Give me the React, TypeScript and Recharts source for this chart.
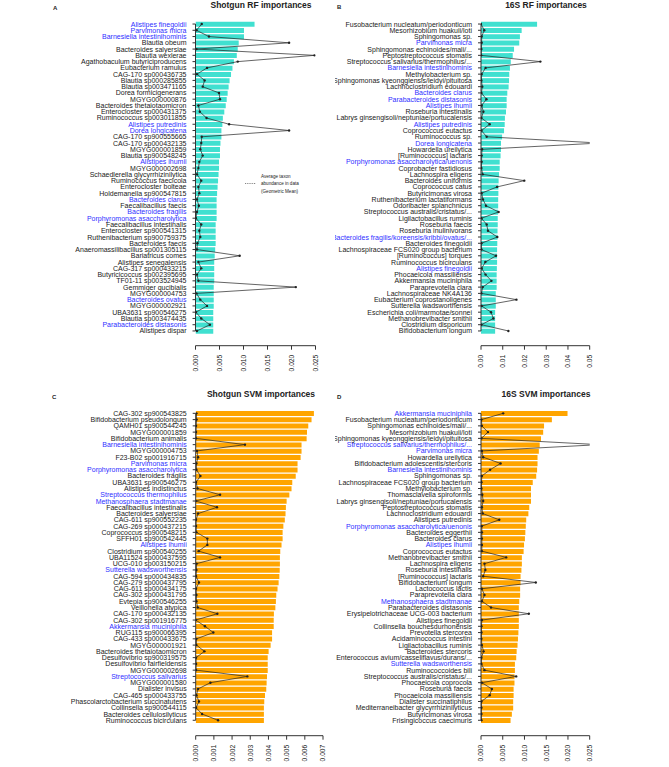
import { ComposedChart, Bar, Line, XAxis, YAxis, ReferenceLine } from 'recharts'

// Shotgun RF
const shotgunRfTaxa = [
  'Alistipes finegoldii', 'Parvimonas micra', 'Barnesiella intestinihominis', 'Blautia obeum',
  'Bacteroides salyersiae', 'Blautia wexlerae', 'Agathobaculum butyriciproducens', 'Eubacterium ramulus',
  'CAG-170 sp000436735', 'Blautia sp000285855', 'Blautia sp003471165', 'Dorea formicigenerans',
  'MGYG000000876', 'Bacteroides thetaiotaomicron', 'Enterocloster sp000431375', 'Ruminococcus sp003011855',
  'Alistipes putredinis', 'Dorea longicatena', 'CAG-170 sp900555665', 'CAG-170 sp000432135',
  'MGYG000001859', 'Blautia sp900548245', 'Alistipes ihumii', 'MGYG000002698',
  'Schaedlerella glycyrrhizinilytica', 'Ruminococcus faecicola', 'Enterocloster bolteae', 'Holdemanella sp900547815',
  'Bacteroides clarus', 'Faecalibacillus faecis', 'Bacteroides fragilis', 'Porphyromonas asaccharolytica',
  'Faecalibacillus intestinalis', 'Enterocloster sp900541315', 'Ruthenibacterium sp900759375', 'Bacteroides faecis',
  'Anaeromassilibacillus sp001305115', 'Bariatricus comes', 'Alistipes senegalensis', 'CAG-317 sp000433215',
  'Butyricicoccus sp002395695', 'TF01-11 sp003524945', 'Gemmiger qucibialis', 'MGYG000004753',
  'Bacteroides ovatus', 'MGYG000002921', 'UBA3631 sp900546275', 'Blautia sp003474435',
  'Parabacteroides distasonis', 'Alistipes dispar',
]
const shotgunRfImportance = [
  0.0123, 0.0101, 0.0101, 0.0090, 0.0088, 0.0086, 0.0080, 0.0077, 0.0074, 0.0071,
  0.0069, 0.0067, 0.0065, 0.0063, 0.0060, 0.0057, 0.0056, 0.0054, 0.0054, 0.0052,
  0.0051, 0.0051, 0.0049, 0.0049, 0.0048, 0.0047, 0.0046, 0.0045, 0.0044, 0.0044,
  0.0044, 0.0044, 0.0042, 0.0042, 0.0042, 0.0042, 0.0041, 0.0040, 0.0039, 0.0039,
  0.0039, 0.0039, 0.0038, 0.0038, 0.0038, 0.0038, 0.0037, 0.0037, 0.0037, 0.0037,
]
const shotgunRfAbundance = [
  0.0013, 0.0002, 0.0028, 0.0195, 0.0002, 0.0248, 0.0088, 0.0024, 0.0003, 0.0019,
  0.0015, 0.0049, 0.0051, 0.0006, 0.0009, 0.0023, 0.0070, 0.0195, 0.0013, 0.0012,
  0.0010, 0.0015, 0.0008, 0.0006, 0.0003, 0.0012, 0.0006, 0.0008, 0.0003, 0.0007,
  0.0003, 0.0001, 0.0012, 0.0008, 0.0010, 0.0004, 0.0003, 0.0092, 0.0006, 0.0012,
  0.0003, 0.0006, 0.0209, 0.0002, 0.0010, 0.0024, 0.0001, 0.0012, 0.0030, 0.0003,
]
const shotgunRfShared = [
  'Alistipes finegoldii', 'Parvimonas micra', 'Barnesiella intestinihominis', 'Alistipes putredinis',
  'Dorea longicatena', 'Alistipes ihumii', 'Bacteroides clarus', 'Bacteroides fragilis',
  'Porphyromonas asaccharolytica', 'Bacteroides ovatus', 'Parabacteroides distasonis',
]

// 16S RF
const s16RfTaxa = [
  'Fusobacterium nucleatum/periodonticum', 'Mesorhizobium huakuii/loti', 'Sphingomonas sp.', 'Parvimonas micra',
  'Sphingomonas echinoides/mali/...', 'Peptostreptococcus stomatis', 'Streptococcus salivarius/thermophilus/...',
  'Barnesiella intestinihominis', 'Methylobacterium sp.', 'Sphingomonas kyeonggiensis/leidyi/pituitosa',
  'Lachnoclostridium edouardi', 'Bacteroides clarus', 'Parabacteroides distasonis', 'Alistipes ihumii',
  'Roseburia intestinalis', 'Labrys ginsengisoli/neptuniae/portucalensis', 'Alistipes putredinis',
  'Coprococcus eutactus', 'Ruminococcus sp.', 'Dorea longicatena', 'Howardella ureilytica',
  '[Ruminococcus] lactaris', 'Porphyromonas asaccharolytica/uenonis', 'Coprobacter fastidiosus',
  'Lachnospira eligens', 'Bacteroides uniformis', 'Coprococcus catus', 'Butyricimonas virosa',
  'Ruthenibacterium lactatiformans', 'Odoribacter splanchnicus', 'Streptococcus australis/cristatus/...',
  'Ligilactobacillus ruminis', 'Roseburia faecis', 'Roseburia inulinivorans',
  'Bacteroides fragilis/koreensis/kribbi/ovatus/...', 'Bacteroides finegoldii',
  'Lachnospiraceae FCS020 group bacterium', '[Ruminococcus] torques', 'Ruminococcus bicirculans',
  'Alistipes finegoldii', 'Phocaeicola massiliensis', 'Akkermansia muciniphila', 'Paraprevotella clara',
  'Lachnospiraceae NK4A136', 'Eubacterium coprostanoligenes', 'Sutterella wadsworthensis',
  'Escherichia coli/marmotae/sonnei', 'Methanobrevibacter smithii', 'Clostridium disporicum',
  'Bifidobacterium longum',
]
const s16RfImportance = [
  0.0258, 0.0187, 0.0179, 0.0176, 0.0152, 0.0146, 0.0137, 0.0133, 0.0130, 0.0129,
  0.0127, 0.0121, 0.0118, 0.0118, 0.0115, 0.0110, 0.0109, 0.0106, 0.0097, 0.0092,
  0.0092, 0.0090, 0.0086, 0.0086, 0.0083, 0.0081, 0.0080, 0.0080, 0.0079, 0.0079,
  0.0078, 0.0077, 0.0077, 0.0076, 0.0076, 0.0075, 0.0074, 0.0074, 0.0074, 0.0073,
  0.0072, 0.0072, 0.0072, 0.0068, 0.0068, 0.0068, 0.0065, 0.0065, 0.0065, 0.0065,
]
const s16RfAbundance = [
  0.0000, 0.0015, 0.0003, 0.0003, 0.0002, 0.0001, 0.0273, 0.0021, 0.0003, 0.0002,
  0.0006, 0.0002, 0.0025, 0.0003, 0.0011, 0.0002, 0.0040, 0.0002, 0.0026, 0.0545,
  0.0005, 0.0003, 0.0003, 0.0002, 0.0008, 0.0199, 0.0074, 0.0003, 0.0009, 0.0023,
  0.0081, 0.0002, 0.0026, 0.0032, 0.0075, 0.0002, 0.0002, 0.0069, 0.0020, 0.0003,
  0.0021, 0.0048, 0.0008, 0.0002, 0.0163, 0.0003, 0.0046, 0.0057, 0.0002, 0.0126,
]
const s16RfShared = [
  'Parvimonas micra', 'Barnesiella intestinihominis', 'Bacteroides clarus', 'Parabacteroides distasonis',
  'Alistipes ihumii', 'Alistipes putredinis', 'Dorea longicatena', 'Porphyromonas asaccharolytica/uenonis',
  'Bacteroides fragilis/koreensis/kribbi/ovatus/...', 'Alistipes finegoldii',
]

// Shotgun SVM
const shotgunSvmTaxa = [
  'CAG-302 sp900543825', 'Bifidobacterium pseudolongum', 'QAMH01 sp900544245', 'MGYG000001859',
  'Bifidobacterium animalis', 'Barnesiella intestinihominis', 'MGYG000004753', 'F23-B02 sp001916715',
  'Parvimonas micra', 'Porphyromonas asaccharolytica', 'Bacteroides fragilis', 'UBA3631 sp900546275',
  'Alistipes indistinctus', 'Streptococcus thermophilus', 'Methanosphaera stadtmanae',
  'Faecalibacillus intestinalis', 'Bacteroides salyersiae', 'CAG-611 sp900552235', 'CAG-269 sp000437215',
  'Coprococcus sp900548215', 'SFFH01 sp900542445', 'Alistipes ihumii', 'Clostridium sp900540255',
  'UBA11524 sp000437595', 'UCG-010 sp003150215', 'Sutterella wadsworthensis', 'CAG-594 sp000434835',
  'CAG-279 sp000437795', 'CAG-611 sp000434175', 'CAG-302 sp000431795', 'Evtepia sp900546255',
  'Veillonella atypica', 'CAG-170 sp000432135', 'CAG-302 sp001916775', 'Akkermansia muciniphila',
  'RUG115 sp900066395', 'CAG-433 sp000433675', 'MGYG000001921', 'Bacteroides thetaiotaomicron',
  'Desulfovibrio sp900319575', 'Desulfovibrio fairfieldensis', 'MGYG000002698', 'Streptococcus salivarius',
  'MGYG000001580', 'Dialister invisus', 'CAG-465 sp000433755', 'Phascolarctobacterium succinatutens',
  'Collinsella sp900544115', 'Bacteroides cellulosilyticus', 'Ruminococcus bicirculans',
]
const shotgunSvmImportance = [
  0.00650, 0.00637, 0.00619, 0.00612, 0.00610, 0.00582, 0.00582, 0.00577, 0.00560, 0.00560,
  0.00550, 0.00531, 0.00527, 0.00515, 0.00500, 0.00496, 0.00494, 0.00490, 0.00482, 0.00478,
  0.00478, 0.00472, 0.00465, 0.00463, 0.00463, 0.00462, 0.00460, 0.00456, 0.00450, 0.00443,
  0.00441, 0.00438, 0.00430, 0.00429, 0.00429, 0.00420, 0.00420, 0.00412, 0.00401, 0.00396,
  0.00396, 0.00396, 0.00392, 0.00390, 0.00388, 0.00381, 0.00377, 0.00375, 0.00375, 0.00375,
]
const shotgunSvmAbundance = [
  0.00004, 0.00005, 0.00002, 0.00002, 0.00002, 0.00271, 0.00007, 0.00013, 0.00004, 0.00004,
  0.00026, 0.00002, 0.00010, 0.00134, 0.00000, 0.00117, 0.00013, 0.00002, 0.00002, 0.00004,
  0.00064, 0.00064, 0.00016, 0.00134, 0.00005, 0.00004, 0.00002, 0.00018, 0.00002, 0.00004,
  0.00004, 0.00011, 0.00119, 0.00000, 0.00051, 0.00097, 0.00004, 0.00004, 0.00048, 0.00002,
  0.00002, 0.00002, 0.00284, 0.00081, 0.00013, 0.00004, 0.00018, 0.00002, 0.00035, 0.00123,
]
const shotgunSvmShared = [
  'Barnesiella intestinihominis', 'Parvimonas micra', 'Porphyromonas asaccharolytica',
  'Streptococcus thermophilus', 'Methanosphaera stadtmanae', 'Alistipes ihumii',
  'Sutterella wadsworthensis', 'Akkermansia muciniphila', 'Streptococcus salivarius',
]

// 16S SVM
const s16SvmTaxa = [
  'Akkermansia muciniphila', 'Fusobacterium nucleatum/periodonticum', 'Sphingomonas echinoides/mali/...',
  'Mesorhizobium huakuii/loti', 'Sphingomonas kyeonggiensis/leidyi/pituitosa',
  'Streptococcus salivarius/thermophilus/...', 'Parvimonas micra', 'Howardella ureilytica',
  'Bifidobacterium adolescentis/stercoris', 'Barnesiella intestinihominis', 'Sphingomonas sp.',
  'Lachnospiraceae FCS020 group bacterium', 'Methylobacterium sp.', 'Thomasclavella spiroformis',
  'Labrys ginsengisoli/neptuniae/portucalensis', 'Peptostreptococcus stomatis', 'Lachnoclostridium edouardi',
  'Alistipes putredinis', 'Porphyromonas asaccharolytica/uenonis', 'Bacteroides eggerthii',
  'Bacteroides clarus', 'Alistipes ihumii', 'Coprococcus eutactus', 'Methanobrevibacter smithii',
  'Lachnospira eligens', 'Roseburia intestinalis', '[Ruminococcus] lactaris', 'Bifidobacterium longum',
  'Lactococcus lactis', 'Paraprevotella clara', 'Methanosphaera stadtmanae', 'Parabacteroides distasonis',
  'Erysipelotrichaceae UCG-003 bacterium', 'Alistipes finegoldii', 'Collinsella bouchesdurhonensis',
  'Prevotella stercorea', 'Acidaminococcus intestini', 'Ligilactobacillus ruminis', 'Bacteroides stercoris',
  'Enterococcus avium/casseliflavus/durans/...', 'Sutterella wadsworthensis', 'Ruminococcoides bili',
  'Streptococcus australis/cristatus/...', 'Phocaeicola coprocola', 'Roseburia faecis',
  'Phocaeicola massiliensis', 'Dialister succinatiphilus', 'Mediterraneibacter glycyrrhizinilyticus',
  'Butyricimonas virosa', 'Frisingicoccus caecimuris',
]
const s16SvmImportance = [
  0.0199, 0.0163, 0.0145, 0.0143, 0.0138, 0.0135, 0.0133, 0.0130, 0.0130, 0.0129,
  0.0127, 0.0119, 0.0115, 0.0115, 0.0115, 0.0111, 0.0109, 0.0104, 0.0103, 0.0102,
  0.0101, 0.0099, 0.0098, 0.0094, 0.0094, 0.0093, 0.0091, 0.0091, 0.0090, 0.0090,
  0.0088, 0.0087, 0.0087, 0.0087, 0.0087, 0.0086, 0.0085, 0.0084, 0.0082, 0.0081,
  0.0078, 0.0078, 0.0077, 0.0077, 0.0075, 0.0075, 0.0074, 0.0074, 0.0071, 0.0068,
]
const s16SvmAbundance = [
  0.0051, 0.0001, 0.0002, 0.0016, 0.0001, 0.0272, 0.0002, 0.0005, 0.0045, 0.0021,
  0.0002, 0.0001, 0.0001, 0.0003, 0.0005, 0.0002, 0.0004, 0.0042, 0.0002, 0.0002,
  0.0002, 0.0002, 0.0002, 0.0058, 0.0008, 0.0010, 0.0005, 0.0126, 0.0002, 0.0008,
  0.0002, 0.0023, 0.0110, 0.0002, 0.0001, 0.0001, 0.0001, 0.0002, 0.0006, 0.0001,
  0.0001, 0.0008, 0.0081, 0.0002, 0.0025, 0.0020, 0.0001, 0.0001, 0.0001, 0.0001,
]
const s16SvmShared = [
  'Akkermansia muciniphila', 'Streptococcus salivarius/thermophilus/...', 'Parvimonas micra',
  'Barnesiella intestinihominis', 'Porphyromonas asaccharolytica/uenonis', 'Alistipes ihumii',
  'Methanosphaera stadtmanae', 'Sutterella wadsworthensis',
]

const FONT = '"Liberation Sans", Arial, Helvetica, sans-serif'
const TEXT = '#222'
const BLUE = '#2f2fff'

function Panel({ left, top, width, height, taxa, importance, abundance, shared, color, max, ticks, digits, plotLeft, plotRight, rowsTop, rowsBottom, axisY }) {
  const data = taxa.map((name, i) => ({ name, importance: importance[i], abundance: abundance[i] }))
  const YTick = ({ x, y, payload }) => (
    <text x={x} y={y} textAnchor="end" dominantBaseline="central" fontSize={7} fontFamily={FONT}
      fill={shared.includes(payload.value) ? BLUE : TEXT}>
      {payload.value}
    </text>
  )
  const XTick = ({ x, y, payload }) => (
    <text x={x} y={y + 3} textAnchor="end" dominantBaseline="central" fontSize={6.7} fontFamily={FONT}
      fill={TEXT} transform={`rotate(-90, ${x}, ${y + 3})`}>
      {payload.value.toFixed(digits)}
    </text>
  )
  return (
    <div style={{ position: 'absolute', left, top }}>
      <ComposedChart
        width={width}
        height={height}
        layout="vertical"
        data={data}
        barCategoryGap="14%"
        margin={{ top: rowsTop, left: 5, right: width - plotRight, bottom: height - axisY - 30 }}
      >
        <XAxis type="number" domain={[0, max]} ticks={ticks} allowDataOverflow interval={0}
          stroke="#333" tickSize={4} tick={<XTick />} height={30} />
        <YAxis type="category" dataKey="name" width={plotLeft - 5} interval={0} axisLine={false}
          stroke="#333" tickSize={3} tickMargin={6} tick={<YTick />}
          padding={{ top: 0, bottom: axisY - rowsBottom }} />
        <Bar dataKey="importance" fill={color} isAnimationActive={false} />
        <ReferenceLine segment={[{ x: 0, y: taxa[0] }, { x: 0, y: taxa[taxa.length - 1] }]}
          stroke="#333" strokeWidth={1} />
        <Line dataKey="abundance" stroke="#222" strokeWidth={0.7}
          dot={{ r: 1.2, fill: '#222', stroke: '#222', strokeWidth: 0 }}
          activeDot={false} isAnimationActive={false} />
      </ComposedChart>
    </div>
  )
}

const titleStyle = { fontFamily: FONT, fontWeight: 'bold', fontSize: 8.5, fill: TEXT }
const letterStyle = { fontFamily: FONT, fontWeight: 'bold', fontSize: 6, fill: TEXT }
const legendStyle = { fontFamily: FONT, fontSize: 4.6, fill: TEXT }

export default function App() {
  return (
    <div style={{ position: 'absolute', left: 0, top: 0, width: 669, height: 767, background: '#fff', overflow: 'hidden' }}>
      <Panel left={0} top={0} width={335} height={382} taxa={shotgunRfTaxa} importance={shotgunRfImportance}
        abundance={shotgunRfAbundance} shared={shotgunRfShared} color="#40E0D0" max={0.025}
        ticks={[0, 0.005, 0.01, 0.015, 0.02, 0.025]} digits={3}
        plotLeft={195.5} plotRight={315.5} rowsTop={20.9} rowsBottom={334.1} axisY={345.7} />
      <Panel left={335} top={0} width={334} height={382} taxa={s16RfTaxa} importance={s16RfImportance}
        abundance={s16RfAbundance} shared={s16RfShared} color="#40E0D0" max={0.05}
        ticks={[0, 0.01, 0.02, 0.03, 0.04, 0.05]} digits={2}
        plotLeft={146} plotRight={254.7} rowsTop={20.9} rowsBottom={334.1} axisY={345.7} />
      <Panel left={0} top={385} width={335} height={382} taxa={shotgunSvmTaxa} importance={shotgunSvmImportance}
        abundance={shotgunSvmAbundance} shared={shotgunSvmShared} color="#FFA500" max={0.007}
        ticks={[0, 0.001, 0.002, 0.003, 0.004, 0.005, 0.006, 0.007]} digits={3}
        plotLeft={195.7} plotRight={323} rowsTop={25.2} rowsBottom={338.4} axisY={350.7} />
      <Panel left={335} top={385} width={334} height={382} taxa={s16SvmTaxa} importance={s16SvmImportance}
        abundance={s16SvmAbundance} shared={s16SvmShared} color="#FFA500" max={0.025}
        ticks={[0, 0.005, 0.01, 0.015, 0.02, 0.025]} digits={3}
        plotLeft={146} plotRight={254.7} rowsTop={25.2} rowsBottom={338.4} axisY={350.7} />
      <svg width={669} height={767} style={{ position: 'absolute', left: 0, top: 0, pointerEvents: 'none' }}>
        <text x={53} y={8} style={letterStyle} dominantBaseline="central">A</text>
        <text x={337} y={7} style={letterStyle} dominantBaseline="central">B</text>
        <text x={52} y={397} style={letterStyle} dominantBaseline="central">C</text>
        <text x={337} y={397} style={letterStyle} dominantBaseline="central">D</text>
        <text x={261} y={5} style={titleStyle} textAnchor="middle" dominantBaseline="central">Shotgun RF importances</text>
        <text x={546} y={5} style={titleStyle} textAnchor="middle" dominantBaseline="central">16S RF importances</text>
        <text x={261} y={394} style={titleStyle} textAnchor="middle" dominantBaseline="central">Shotgun SVM importances</text>
        <text x={546} y={394} style={titleStyle} textAnchor="middle" dominantBaseline="central">16S SVM importances</text>
        <line x1={245} x2={256} y1={183.5} y2={183.5} stroke="#333" strokeWidth={0.6} strokeDasharray="1 0.8" />
        <text x={261} y={176} style={legendStyle} dominantBaseline="central">Average taxon</text>
        <text x={261} y={183.5} style={legendStyle} dominantBaseline="central">abundance in data</text>
        <text x={261} y={191} style={legendStyle} dominantBaseline="central">(Geometric Mean)</text>
      </svg>
    </div>
  )
}
